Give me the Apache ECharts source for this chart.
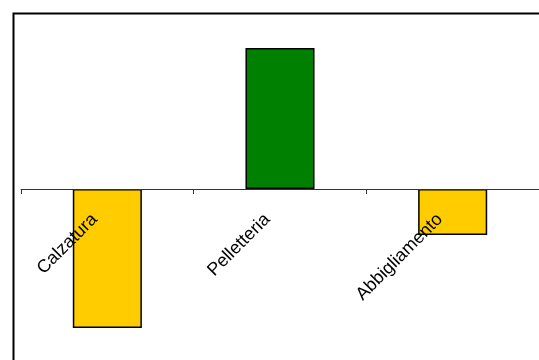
<!DOCTYPE html>
<html>
<head>
<meta charset="utf-8">
<script src="https://cdn.jsdelivr.net/npm/echarts@6/dist/echarts.min.js"></script>
<style>html,body{margin:0;padding:0;background:#fff;}#c{width:539px;height:360px;}</style>
</head>
<body>
<div id="c"></div>
<script>
const categories = ['Calzatura', 'Pelletteria', 'Abbigliamento'];
const values = [-139, 141, -46];
const barColors = ['#FFCC00', '#008000', '#FFCC00'];

const chart = echarts.init(document.getElementById('c'), null, {renderer: 'canvas'});
chart.setOption({
  animation: false,
  backgroundColor: '#fff',
  graphic: [{
    type: 'rect', left: 11, top: 11, z: 0,
    shape: {width: 700, height: 500},
    style: {fill: 'none', stroke: '#000', lineWidth: 2}
  }],
  grid: {left: 21, right: 0, top: 29, bottom: 11, outerBoundsMode: 'none'},
  xAxis: {
    type: 'category', data: categories, z: 5,
    position: 'bottom', offset: -160,
    axisLine: {onZero: false, lineStyle: {color: '#333', width: 1}},
    axisTick: {show: true, length: 5, interval: 0, lineStyle: {color: '#333', width: 1}},
    axisLabel: {
      show: true, interval: 0, hideOverlap: false,
      rotate: 45, margin: 15, padding: [0, 18, 0, 0],
      color: '#000', fontSize: 18, fontFamily: 'Liberation Sans, Arial, sans-serif'
    }
  },
  yAxis: {type: 'value', min: -160, max: 160, show: false, splitLine: {show: false}},
  series: [{
    type: 'bar', barWidth: '40%',
    data: values.map((v, i) => ({value: v, itemStyle: {color: barColors[i]}})),
    itemStyle: {borderColor: '#000', borderWidth: 1.5}
  }]
});
</script>
</body>
</html>
